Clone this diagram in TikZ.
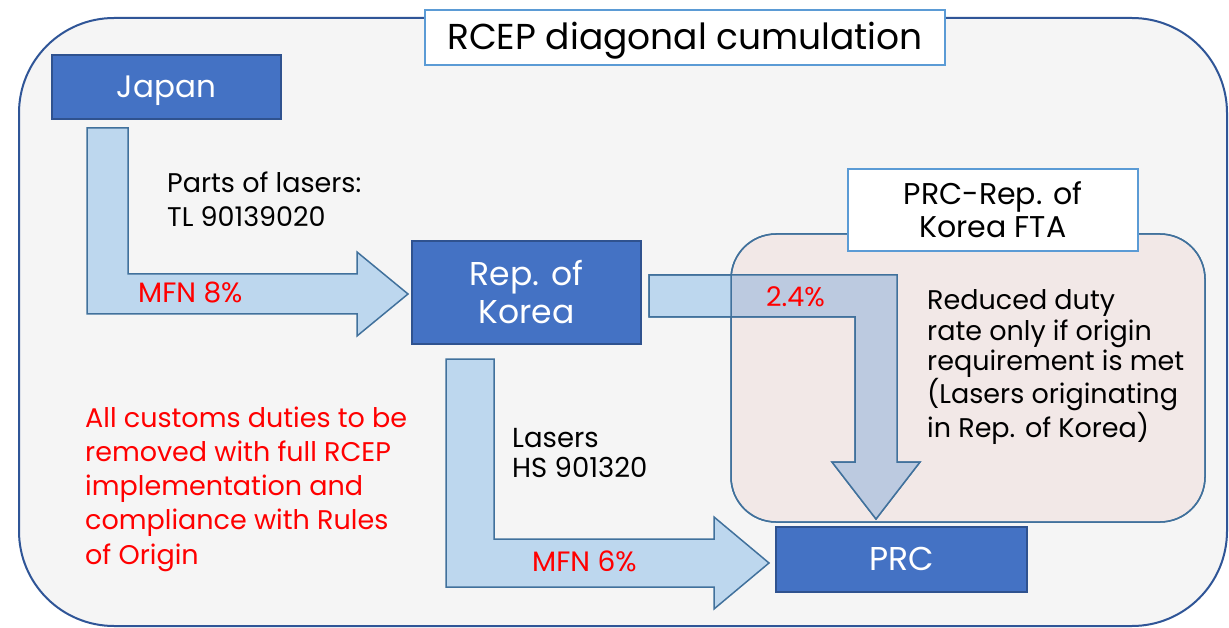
\documentclass[tikz,border=0pt]{standalone}
\usepackage{fontspec}
\setmainfont{Poppins}
\definecolor{outerfill}{HTML}{F5F5F5}
\definecolor{outerline}{HTML}{2F5597}
\definecolor{lightline}{HTML}{5B9BD5}
\definecolor{boxfill}{HTML}{4472C4}
\definecolor{boxline}{HTML}{2F528F}
\definecolor{arrowfill}{HTML}{BDD7EE}
\definecolor{arrowline}{HTML}{41719C}
\definecolor{pinkfill}{HTML}{F2E8E7}
\definecolor{overlapfill}{HTML}{BCCAE0}
\definecolor{redtext}{HTML}{FF0000}
\tikzset{
  country/.style={draw=boxline, fill=boxfill, line width=2pt, text=white, align=center, inner sep=0pt},
  labelbox/.style={draw=lightline, fill=white, line width=2.5pt, text=black, align=center, inner sep=0pt},
  blockarrow/.style={draw=arrowline, fill=arrowfill, line width=1.5pt, line join=miter},
  plain/.style={anchor=base west, align=left, inner sep=0pt, text=black},
  redlbl/.style={anchor=base west, align=left, inner sep=0pt, text=redtext},
}
\begin{document}
\begin{tikzpicture}[x=1pt,y=-1pt]
\useasboundingbox (0,0) rectangle (1229,628);
\fill[white] (0,0) rectangle (1229,628);
% outer frame
\draw[draw=outerline, fill=outerfill, line width=2pt, rounded corners=95pt] (19,18) rectangle (1227,626);
% title
\node[labelbox, minimum width=520pt, minimum height=55pt, text height=25pt, text depth=0pt, font=\fontsize{36}{40}\selectfont] (title) at (685,37.5) {RCEP diagonal cumulation};
% country boxes
\node[country, minimum width=229pt, minimum height=64pt, text height=21.6pt, text depth=0pt, font=\fontsize{31}{38}\selectfont] (japan) at (166.5,87) {Japan};
\node[country, minimum width=229pt, minimum height=103pt, font=\fontsize{33}{38}\selectfont] (korea) at (526.5,292.5) {Rep. of\\Korea};
% arrow Japan -> Korea
\draw[blockarrow] (87,128) -- (128,128) -- (128,274) -- (357,274) -- (357,252) -- (408,294) -- (357,336) -- (357,314) -- (87,314) -- cycle;
% arrow Korea -> PRC (MFN)
\draw[blockarrow] (446,359) -- (494,359) -- (494,539) -- (714,539) -- (714,517) -- (769,563) -- (714,609) -- (714,587) -- (446,587) -- cycle;
% FTA area
\path[fill=pinkfill, draw=arrowline, line width=1.5pt, rounded corners=45pt] (731,234) rectangle (1205,522);
\draw[blockarrow] (649,275) -- (897,275) -- (897,462) -- (920,462) -- (876,519) -- (832,462) -- (855,462) -- (855,317) -- (649,317) -- cycle;
\begin{scope}
  \clip[rounded corners=45pt] (731,234) rectangle (1205,522);
  \fill[overlapfill] (649,275) -- (897,275) -- (897,462) -- (920,462) -- (876,519) -- (832,462) -- (855,462) -- (855,317) -- (649,317) -- cycle;
\end{scope}
\draw[draw=arrowline, line width=1.5pt, rounded corners=45pt] (731,234) rectangle (1205,522);
\draw[draw=arrowline, line width=1.5pt, line join=miter] (649,275) -- (897,275) -- (897,462) -- (920,462) -- (876,519) -- (832,462) -- (855,462) -- (855,317) -- (649,317) -- cycle;
\node[labelbox, minimum width=290pt, minimum height=82pt, font=\fontsize{30}{33}\selectfont] (fta) at (993,210) {PRC-Rep. of\\Korea FTA};
% PRC
\node[country, minimum width=251pt, minimum height=65pt, text height=23pt, text depth=0pt, font=\fontsize{33}{38}\selectfont] (prc) at (901.5,559) {PRC};
% labels
\node[plain, font=\fontsize{27}{34}\selectfont] (parts) at (167,227) {Parts of lasers:\\TL 90139020};
\node[redlbl, font=\fontsize{28}{34}\selectfont] (mfn8) at (138,303) {MFN 8\%};
\node[plain, font=\fontsize{27.5}{30}\selectfont] (lasers) at (512,477) {Lasers\\HS 901320};
\node[redlbl, font=\fontsize{28}{34}\selectfont] (mfn6) at (532,571) {MFN 6\%};
\node[redlbl, font=\fontsize{27}{34}\selectfont] (rate) at (766,307) {2.4\%};
\node[plain, font=\fontsize{27}{30.2}\selectfont] (reduced) at (927,437) {Reduced duty\\rate only if origin\\requirement is met\\(Lasers originating\\in Rep. of Korea)};
\node[redlbl, font=\fontsize{27}{34.2}\selectfont] (note) at (85,564) {All customs duties to be\\removed with full RCEP\\implementation and\\compliance with Rules\\of Origin};
\end{tikzpicture}
\end{document}
